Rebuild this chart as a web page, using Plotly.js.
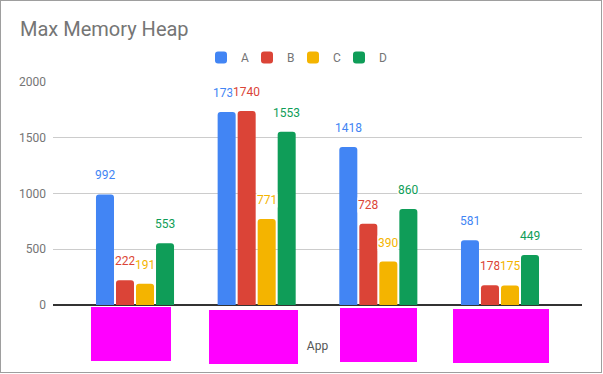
<!DOCTYPE html>
<html>
<head>
<meta charset="utf-8">
<script src="https://cdn.plot.ly/plotly-3.0.1.min.js"></script>
<style>
  html, body { margin: 0; padding: 0; background: #fff; }
  #chart { width: 600px; height: 371px; border: 1px solid #9e9e9e; }
</style>
</head>
<body>
<div id="chart"></div>
<script>
// ---- data ----
const categories = ["App 1", "App 2", "App 3", "App 4"];
const seriesNames = ["A", "B", "C", "D"];
const valuesA = [992, 1731, 1418, 581];
const valuesB = [222, 1740, 728, 178];
const valuesC = [191, 771, 390, 175];
const valuesD = [553, 1553, 860, 449];
const yTicks = [0, 500, 1000, 1500, 2000];

// ---- styling ----
const colors = ["#4285F4", "#DB4437", "#F4B400", "#0F9D58"];
const allValues = [valuesA, valuesB, valuesC, valuesD];
const FONT = "Roboto, 'Noto Sans', Arial, sans-serif";

const W = 600, H = 371;
const M = { l: 52, r: 19, t: 81, b: 67 };
const plotW = W - M.l - M.r, plotH = H - M.t - M.b;

const bargap = 0.342, bargroupgap = 0.1;
const slot = (1 - bargap) / seriesNames.length;

const traces = seriesNames.map((name, k) => ({
  type: "bar",
  name: name,
  x: categories,
  y: allValues[k],
  marker: { color: colors[k], cornerradius: 3 },
  legendwidth: k === seriesNames.length - 1 ? 12 : 1,
  hoverinfo: "x+y+name"
}));

// value labels above bars (white background, like the original)
const annotations = [];
seriesNames.forEach((name, k) => {
  allValues[k].forEach((v, i) => {
    annotations.push({
      xref: "x", yref: "y",
      x: i + (k - (seriesNames.length - 1) / 2) * slot,
      y: v,
      text: String(v),
      showarrow: false,
      yanchor: "middle",
      xanchor: "center",
      yshift: 19,
      bgcolor: "#ffffff",
      borderpad: 0,
      font: { family: FONT, size: 12, color: colors[k] }
    });
  });
});

// redaction boxes over category labels (page pixel boxes -> paper coords)
const redactBoxes = [
  [91, 307, 171, 361],
  [209, 310, 298, 364],
  [340, 308, 417, 362],
  [453, 309, 549, 363]
];
const shapes = redactBoxes.map(b => ({
  type: "rect", xref: "paper", yref: "paper",
  x0: (b[0] - 1 - M.l) / plotW, x1: (b[2] - 1 - M.l) / plotW,
  y0: (H - M.b - (b[3] - 1)) / plotH, y1: (H - M.b - (b[1] - 1)) / plotH,
  fillcolor: "#ff00ff", line: { width: 0 }, layer: "above"
}));

const layout = {
  width: W, height: H,
  margin: M,
  paper_bgcolor: "#ffffff",
  plot_bgcolor: "#ffffff",
  font: { family: FONT, size: 12, color: "#757575" },
  title: {
    text: "Max Memory Heap",
    font: { family: FONT, size: 20, color: "#757575" },
    xref: "container", yref: "container",
    x: 19 / W, xanchor: "left",
    y: 1 - 27.5 / H, yanchor: "middle"
  },
  showlegend: true,
  legend: {
    orientation: "h",
    xref: "paper", yref: "paper",
    x: (200 - M.l) / plotW, xanchor: "left",
    y: 1 + (81 - 42) / plotH, yanchor: "top",
    font: { family: FONT, size: 12, color: "#757575" },
    bgcolor: "rgba(0,0,0,0)",
    traceorder: "normal"
  },
  barmode: "group",
  bargap: bargap,
  bargroupgap: bargroupgap,
  xaxis: {
    type: "category",
    range: [-0.674, 3.674],
    showticklabels: false,
    showgrid: false,
    zeroline: false,
    showline: false,
    ticks: "",
    fixedrange: true,
    title: { text: "App", font: { family: FONT, size: 12, color: "#555555" }, standoff: 36 }
  },
  yaxis: {
    range: [0, 2000],
    tickvals: yTicks,
    ticktext: yTicks.map(String),
    showgrid: true,
    gridcolor: "#cccccc",
    gridwidth: 1,
    zeroline: true,
    zerolinecolor: "#333333",
    zerolinewidth: 1.5,
    ticks: "",
    ticklabelstandoff: 6,
    tickfont: { family: FONT, size: 12, color: "#757575" },
    fixedrange: true
  },
  annotations: annotations,
  shapes: shapes
};

Plotly.newPlot("chart", traces, layout, { displayModeBar: false, staticPlot: true });
</script>
</body>
</html>
